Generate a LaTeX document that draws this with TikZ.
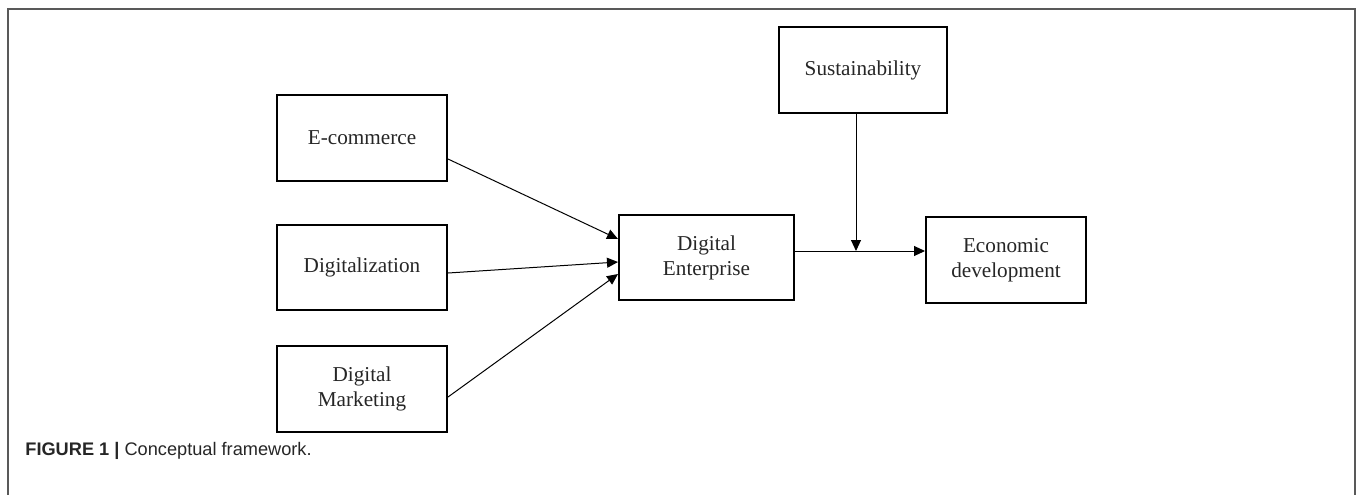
\documentclass[tikz,border=0pt]{standalone}
\usepackage{fontspec}
\setmainfont{Liberation Serif}
\newfontfamily\capfont{Liberation Sans}
\usetikzlibrary{positioning,calc,arrows.meta}

\tikzstyle{block} = [rectangle, minimum width=85pt, minimum height=43pt, align=center, draw=black, line width=1pt, inner sep=0pt, font=\fontsize{10.6}{12.5}\selectfont, text=black!85]
\tikzstyle{arrow} = [line width=0.5pt, -{Triangle[length=5.5pt,width=5pt]}]

\begin{document}
\begin{tikzpicture}
    \useasboundingbox (0,0) rectangle (679pt,-247pt);
    % outer frame
    \draw [black!65, line width=0.9pt] (4pt,-250pt) -- (4pt,-4.5pt) -- (677.5pt,-4.5pt) -- (677.5pt,-250pt);

    % Draw nodes
    \node (ecom) [block] at (181pt,-69pt) {E-commerce};
    \node (digi) [block, minimum height=42.5pt, below=21pt of ecom] {Digitalization};
    \node (mkt) [block, below=17pt of digi] {Digital\\Marketing};
    \node (ent) [block, minimum width=87.5pt, minimum height=42.5pt, right=85pt of digi, yshift=5pt] {Digital\\Enterprise};
    \node (econ) [block, minimum width=80pt, right=65pt of ent, yshift=-1.25pt] {Economic\\development};
    \node (sust) [block, minimum width=84pt, above=51pt of econ, xshift=-71.5pt] {Sustainability};

    % Draw connections
    \coordinate (out) at ($(ent.east)+(0,3.25pt)$);
    \coordinate (jn) at ($(sust.south)+(-3.5pt,0)$);
    \draw [arrow] ($(ecom.east)+(0,-10.5pt)$) -- ($(ent.west)+(0,9.25pt)$);
    \draw [arrow] ($(digi.east)+(0,-2.75pt)$) -- ($(ent.west)+(0,-2.25pt)$);
    \draw [arrow] ($(mkt.east)+(0,-4pt)$) -- ($(ent.west)+(0,-8.25pt)$);
    \draw [arrow] (out) -- (out -| econ.west);
    \draw [arrow] (jn) -- (jn |- out);

    % caption
    \node (cap) [anchor=base west, inner sep=0pt, font=\capfont\fontsize{9.1}{11}\selectfont, text=black!85] at (12.5pt,-227.5pt) {\textbf{FIGURE 1 |} Conceptual framework.};
\end{tikzpicture}
\end{document}
